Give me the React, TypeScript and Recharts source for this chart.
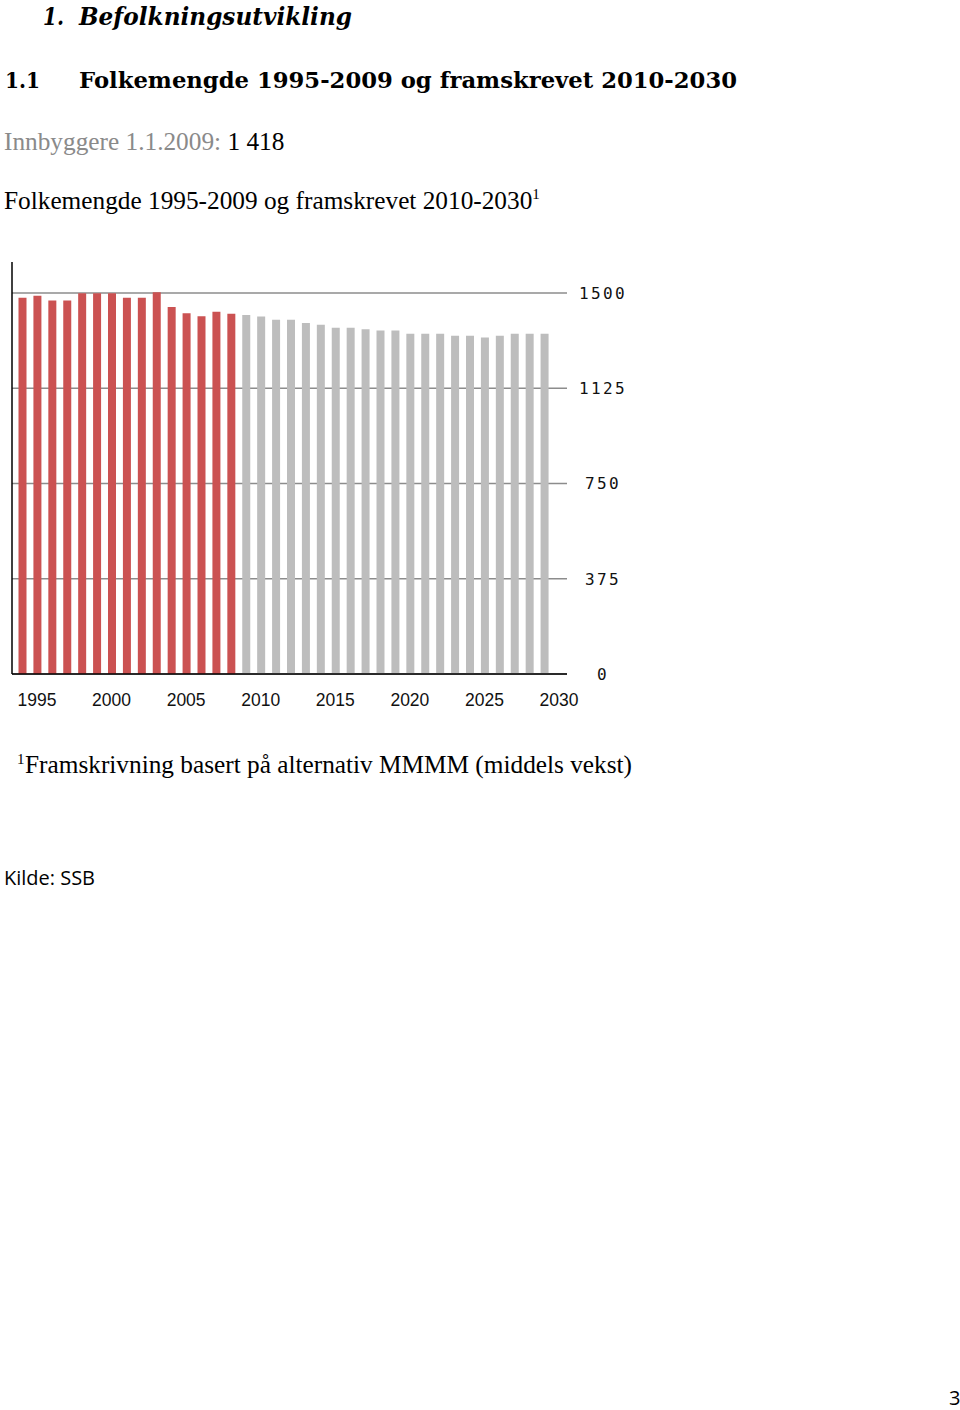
import React from 'react';
import { BarChart, Bar, XAxis, YAxis, CartesianGrid, Cell } from 'recharts';

const years = [
  1995, 1996, 1997, 1998, 1999, 2000, 2001, 2002, 2003, 2004, 2005, 2006,
  2007, 2008, 2009, 2010, 2011, 2012, 2013, 2014, 2015, 2016, 2017, 2018,
  2019, 2020, 2021, 2022, 2023, 2024, 2025, 2026, 2027, 2028, 2029, 2030,
];

// Registered population 1995-2009
const registered = [1481, 1489, 1470, 1470, 1499, 1499, 1499, 1481, 1481, 1503, 1445, 1420, 1408, 1426, 1418];

// Projected population 2010-2030 (MMMM)
const projected = [1413, 1407, 1395, 1395, 1382, 1375, 1363, 1363, 1357, 1352, 1352, 1340, 1340, 1340, 1332, 1332, 1325, 1332, 1340, 1340, 1340];

const yTicks = [0, 375, 750, 1125, 1500];

const RED = '#cb5252';
const GREY = '#bdbdbd';

const allValues = [...registered, ...projected];
const data = years.map((year, i) => ({
  year: String(year),
  value: allValues[i],
  projected: i >= registered.length,
}));

const XTick = (props: any) => {
  const { x, y, payload } = props;
  return (
    <text
      x={x + 14}
      y={y + 24}
      textAnchor="middle"
      fontFamily="'Liberation Sans', Arial, sans-serif"
      fontSize={17.5}
      fill="#111"
    >
      {payload.value}
    </text>
  );
};

const YTick = (props: any) => {
  const { x, y, payload } = props;
  return (
    <text
      x={x + 28}
      y={y + 6}
      textAnchor="middle"
      fontFamily="'DejaVu Sans Mono', 'Liberation Mono', monospace"
      fontSize={16}
      letterSpacing={2.4}
      fill="#111"
    >
      {payload.value}
    </text>
  );
};

export default function App() {
  return (
    <div style={{ position: 'absolute', left: 0, top: 0, width: 960, height: 1410, background: '#fff' }}>
      <svg width={960} height={1410} style={{ position: 'absolute', left: 0, top: 0 }}>
        <g fontFamily="'DejaVu Serif', serif" fontWeight="bold" fontStyle="italic" fill="#000">
          <text x={43} y={25} fontSize={24} textLength={21} lengthAdjust="spacingAndGlyphs">1.</text>
          <text x={79} y={25} fontSize={24} textLength={273} lengthAdjust="spacingAndGlyphs">Befolkningsutvikling</text>
        </g>
        <g fontFamily="'DejaVu Serif', serif" fontWeight="bold" fill="#000">
          <text x={5} y={88} fontSize={23} textLength={35} lengthAdjust="spacingAndGlyphs">1.1</text>
          <text x={79} y={88} fontSize={23} textLength={658} lengthAdjust="spacingAndGlyphs">
            Folkemengde 1995-2009 og framskrevet 2010-2030
          </text>
        </g>
        <g fontFamily="'Liberation Serif', 'Times New Roman', serif" fontSize={25.3}>
          <text x={4} y={150}>
            <tspan fill="#8a8a8a">Innbyggere 1.1.2009: </tspan>
            <tspan fill="#000">1 418</tspan>
          </text>
          <text x={4} y={209} fill="#000">
            Folkemengde 1995-2009 og framskrevet 2010-2030
            <tspan fontSize={15} dy={-10}>1</tspan>
          </text>
          <text x={17} y={764} fill="#000" fontSize={15}>1</text>
          <text x={25} y={773} fill="#000">Framskrivning basert på alternativ MMMM (middels vekst)</text>
        </g>
        <text x={4} y={885} fontFamily="'Open Sans', sans-serif" fontSize={20} fill="#000" textLength={91} lengthAdjust="spacingAndGlyphs">
          Kilde: SSB
        </text>
        <text x={949} y={1405} fontFamily="'Open Sans', sans-serif" fontSize={20} fill="#000">3</text>
      </svg>

      <div style={{ position: 'absolute', left: 0, top: 240 }}>
        <BarChart
          width={640}
          height={480}
          data={data}
          margin={{ top: 22, right: 0, bottom: 0, left: 11 }}
          barCategoryGap={0}
        >
          <CartesianGrid
            vertical={false}
            stroke="#8c8c8c"
            strokeWidth={1.3}
            yAxisId="right"
            horizontalValues={yTicks}
          />
          <XAxis
            dataKey="year"
            height={46}
            interval={4}
            tickLine={false}
            axisLine={{ stroke: '#000', strokeWidth: 1.3 }}
            padding={{ left: 3.5, right: 14.5 }}
            tick={<XTick />}
          />
          <YAxis
            yAxisId="left"
            orientation="left"
            width={1}
            domain={[0, 1622]}
            ticks={yTicks}
            tick={false}
            tickLine={false}
            axisLine={{ stroke: '#000', strokeWidth: 1.5 }}
          />
          <YAxis
            yAxisId="right"
            orientation="right"
            width={73}
            domain={[0, 1622]}
            ticks={yTicks}
            interval={0}
            tickLine={false}
            axisLine={false}
            tick={<YTick />}
          />
          <Bar dataKey="value" yAxisId="right" barSize={8} isAnimationActive={false}>
            {data.map((d) => (
              <Cell key={d.year} fill={d.projected ? GREY : RED} />
            ))}
          </Bar>
        </BarChart>
      </div>
    </div>
  );
}
